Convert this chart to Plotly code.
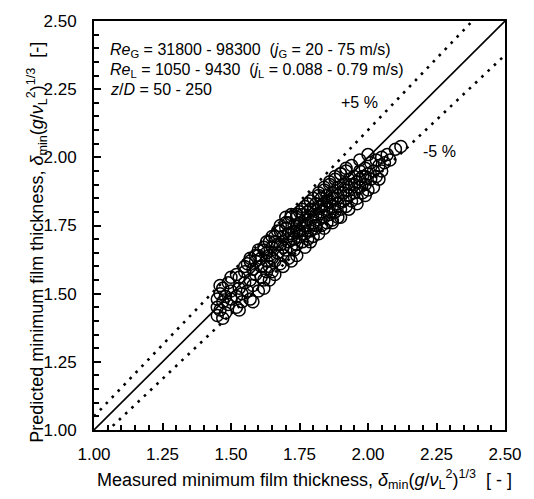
import plotly.graph_objects as go

# Measured (x) vs predicted (y) dimensionless minimum film thickness
x_meas = [
    1.45, 1.45, 1.45, 1.46, 1.46, 1.47, 1.47, 1.48, 1.48, 1.49, 1.49, 1.50, 1.50, 1.46, 1.47,
    1.52, 1.52, 1.53, 1.53, 1.54, 1.54, 1.55, 1.55, 1.56, 1.56, 1.57, 1.57, 1.57, 1.58, 1.58,
    1.59, 1.59, 1.60, 1.60, 1.61, 1.61, 1.62, 1.62, 1.63, 1.63, 1.63,
    1.64, 1.64, 1.65, 1.65, 1.65, 1.66, 1.66, 1.67, 1.67, 1.68, 1.68, 1.68, 1.69, 1.69,
    1.70, 1.70, 1.70, 1.71, 1.71, 1.71, 1.72, 1.72, 1.72,
    1.73, 1.73, 1.73, 1.74, 1.74, 1.74, 1.75, 1.75, 1.75, 1.76, 1.76, 1.76, 1.77, 1.77, 1.77,
    1.78, 1.78, 1.78, 1.79, 1.79, 1.79, 1.80, 1.80, 1.80, 1.81, 1.81, 1.81, 1.82, 1.82, 1.82,
    1.83, 1.83, 1.83, 1.84, 1.84, 1.84, 1.85, 1.85, 1.85, 1.86, 1.86, 1.86, 1.87, 1.87, 1.87,
    1.88, 1.88, 1.88, 1.89, 1.89, 1.89, 1.90, 1.90, 1.90, 1.91, 1.91, 1.92, 1.92, 1.92, 1.93, 1.93,
    1.94, 1.94, 1.95, 1.95, 1.96, 1.96, 1.97, 1.97, 1.98, 1.98, 1.99, 1.99, 2.00, 2.00,
    2.01, 2.01, 2.02, 2.03, 2.03, 2.04, 2.05, 2.05, 2.06, 2.07, 2.08, 2.10, 2.12,
    1.50, 1.52, 1.55, 1.57, 1.59, 1.60, 1.62, 1.64, 1.66, 1.68, 1.70, 1.72, 1.74, 1.76,
    1.78, 1.80, 1.82, 1.84, 1.86, 1.88, 1.90, 1.92, 1.94, 1.97, 2.00,
    1.53, 1.58, 1.62, 1.64, 1.66, 1.69, 1.72, 1.74, 1.77, 1.79, 1.82, 1.84, 1.87, 1.90,
    1.93, 1.96, 1.99, 2.02, 2.04,
    1.61, 1.63, 1.65, 1.67, 1.69, 1.71, 1.73, 1.75, 1.77, 1.79, 1.81, 1.83, 1.85, 1.87,
    1.89, 1.91, 1.93, 1.95, 1.97, 1.99,
]
y_pred = [
    1.42, 1.45, 1.48, 1.50, 1.44, 1.47, 1.52, 1.43, 1.49, 1.46, 1.54, 1.48, 1.51, 1.53, 1.41,
    1.45, 1.49, 1.52, 1.56, 1.47, 1.50, 1.54, 1.58, 1.51, 1.61, 1.48, 1.55, 1.63, 1.53, 1.59,
    1.57, 1.62, 1.51, 1.64, 1.56, 1.60, 1.55, 1.66, 1.58, 1.62, 1.69,
    1.60, 1.64, 1.58, 1.67, 1.71, 1.62, 1.69, 1.65, 1.73, 1.61, 1.68, 1.75, 1.64, 1.71,
    1.66, 1.74, 1.78, 1.63, 1.69, 1.76, 1.67, 1.72, 1.79,
    1.66, 1.70, 1.75, 1.68, 1.73, 1.78, 1.71, 1.76, 1.80, 1.69, 1.74, 1.79, 1.72, 1.77, 1.82,
    1.70, 1.75, 1.80, 1.73, 1.78, 1.84, 1.71, 1.76, 1.81, 1.74, 1.79, 1.75, 1.77, 1.82, 1.86,
    1.75, 1.80, 1.85, 1.78, 1.83, 1.88, 1.76, 1.81, 1.86, 1.79, 1.84, 1.90, 1.77, 1.82, 1.87,
    1.80, 1.85, 1.92, 1.78, 1.83, 1.89, 1.81, 1.87, 1.94, 1.84, 1.90, 1.82, 1.88, 1.95, 1.86, 1.92,
    1.84, 1.90, 1.87, 1.93, 1.85, 1.91, 1.89, 1.95, 1.87, 1.93, 1.90, 1.96, 1.88, 1.94,
    1.92, 1.98, 1.95, 1.93, 1.99, 1.97, 1.95, 2.00, 1.98, 2.01, 1.99, 2.03, 2.04,
    1.56, 1.57, 1.60, 1.62, 1.64, 1.66, 1.67, 1.69, 1.71, 1.73, 1.76, 1.78, 1.79, 1.81,
    1.83, 1.85, 1.87, 1.89, 1.91, 1.93, 1.94, 1.96, 1.97, 1.99, 2.01,
    1.44, 1.47, 1.52, 1.55, 1.57, 1.60, 1.62, 1.64, 1.67, 1.69, 1.72, 1.74, 1.76, 1.78,
    1.81, 1.83, 1.86, 1.89, 1.92,
    1.63, 1.65, 1.63, 1.68, 1.67, 1.72, 1.73, 1.73, 1.75, 1.81, 1.83, 1.82, 1.84, 1.85,
    1.86, 1.87, 1.89, 1.90, 1.92, 1.93,
]

axis_range = [1.0, 2.5]
tick_vals = [1.00, 1.25, 1.50, 1.75, 2.00, 2.25, 2.50]
tick_text = ["1.00", "1.25", "1.50", "1.75", "2.00", "2.25", "2.50"]
band_factors = [1.05, 0.95]

FONT = "Liberation Sans, Arial, Helvetica, sans-serif"
NB = "\u00a0"

fig = go.Figure()

# perfect agreement line
fig.add_trace(go.Scatter(
    x=axis_range, y=axis_range, mode="lines",
    line=dict(color="black", width=1.6), showlegend=False, hoverinfo="skip"))

# +/-5 % lines
for f in band_factors:
    fig.add_trace(go.Scatter(
        x=axis_range, y=[v * f for v in axis_range], mode="lines",
        line=dict(color="black", width=2.6, dash="2.6px,6px"),
        showlegend=False, hoverinfo="skip"))

fig.add_trace(go.Scatter(
    x=x_meas, y=y_pred, mode="markers",
    marker=dict(symbol="circle-open", size=12, color="black", line=dict(width=1.5)),
    showlegend=False))

axis_common = dict(
    range=axis_range, tickmode="array", tickvals=tick_vals, ticktext=tick_text,
    ticks="inside", ticklen=7, tickwidth=1.5, tickcolor="black",
    showline=True, linecolor="black", linewidth=2, mirror=True,
    showgrid=False, zeroline=False, ticklabeloverflow="allow",
    tickfont=dict(family=FONT, size=17, color="black"),
    minor=dict(ticks="inside", ticklen=5, tickwidth=1.5, tickcolor="black",
               dtick=0.05, tick0=1.0, showgrid=False),
)

fig.update_layout(
    width=534, height=499,
    margin=dict(l=94, r=14, t=17, b=69),
    paper_bgcolor="white", plot_bgcolor="white",
    font=dict(family=FONT, size=16, color="black"),
    xaxis=dict(**axis_common, ticklabelstandoff=8),
    yaxis=dict(**axis_common, ticklabelstandoff=12),
)

ann_font = dict(family=FONT, size=16, color="black")
annots = [
    ("<i>Re</i><sub>G</sub> = 31800 - 98300" + NB + NB + "(<i>j</i><sub>G</sub> = 20 - 75 m/s)", 2.39),
    ("<i>Re</i><sub>L</sub> = 1050 - 9430" + NB + NB + "(<i>j</i><sub>L</sub> = 0.088 - 0.79 m/s)", 2.32),
    ("<i>z</i>/<i>D</i> = 50 - 250", 2.25),
]
for txt, yv in annots:
    fig.add_annotation(x=1.05, y=yv, xref="x", yref="y", text=txt, showarrow=False,
                       xanchor="left", yanchor="middle", font=ann_font)

fig.add_annotation(x=1.97, y=2.2, xref="x", yref="y", text="+5 %", showarrow=False,
                   xanchor="center", yanchor="middle", font=dict(family=FONT, size=16))
fig.add_annotation(x=2.26, y=2.02, xref="x", yref="y", text="-5 %", showarrow=False,
                   xanchor="center", yanchor="middle", font=dict(family=FONT, size=16))

fig.add_annotation(
    x=0.5, y=0, xref="paper", yref="paper", yshift=-49, xshift=5, xanchor="center", yanchor="middle",
    text="Measured minimum film thickness, <i>δ</i><sub>min</sub>(<i>g</i>/<i>ν</i><sub>L</sub><sup>2</sup>)<sup>1/3</sup>" + NB + NB + "[ - ]",
    showarrow=False, font=dict(family=FONT, size=18))
fig.add_annotation(
    x=0, y=0.458, xref="paper", yref="paper", xshift=-57, xanchor="center", yanchor="middle",
    textangle=-90,
    text="Predicted minimum film thickness, <i>δ</i><sub>min</sub>(<i>g</i>/<i>ν</i><sub>L</sub><sup>2</sup>)<sup>1/3</sup>" + NB + NB + "[-]",
    showarrow=False, font=dict(family=FONT, size=18))

fig.write_html("out.html")
